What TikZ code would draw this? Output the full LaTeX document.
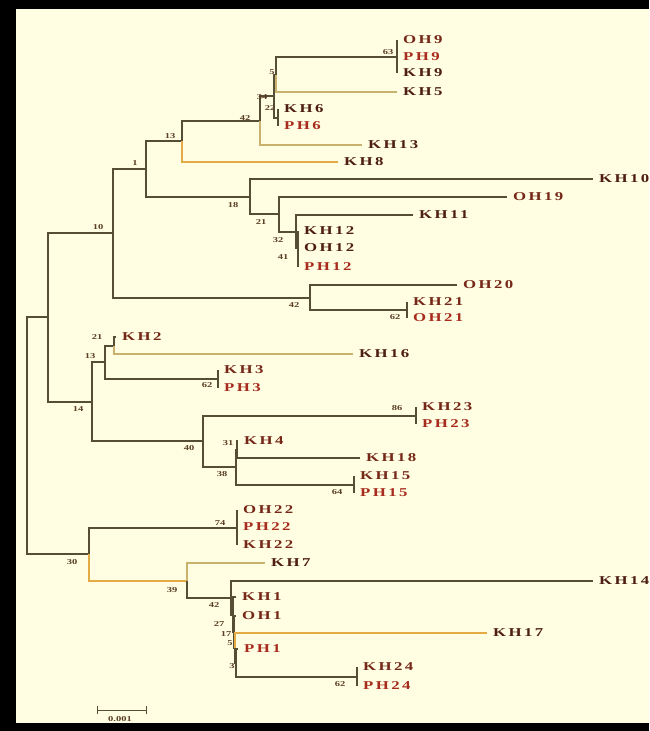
\documentclass[tikz,border=0pt]{standalone}
\usepackage{fontspec}
\newfontfamily\taxonfont[FakeStretch=1.4,LetterSpace=20]{Liberation Serif}
\newfontfamily\bootfont[FakeStretch=1.4]{Liberation Serif}
\definecolor{paper}{RGB}{255,253,226}
\definecolor{branchcol}{RGB}{85,78,52}
\definecolor{palecol}{RGB}{200,178,110}
\definecolor{ambercol}{RGB}{228,170,70}
\definecolor{khcol}{RGB}{78,30,20}
\definecolor{ohcol}{RGB}{118,40,24}
\definecolor{phcol}{RGB}{168,44,30}
\definecolor{bootcol}{RGB}{90,62,36}
\begin{document}
\begin{tikzpicture}[
			x = 1pt,
			y = -1pt,
			branch/.style = {
				draw = branchcol,
				line width = 1.4pt
			},
			pale/.style = {branch, draw = palecol},
			amber/.style = {branch, draw = ambercol},
			taxon/.style = {
				anchor = west,
				inner xsep = 6pt,
				inner ysep = 0pt,
				font = \fontsize{12}{12}\taxonfont\bfseries
			},
			kh/.style = {taxon, text = khcol},
			oh/.style = {taxon, text = ohcol},
			ph/.style = {taxon, text = phcol},
			boot/.style = {
				inner sep = 0pt,
				text = bootcol,
				font = \fontsize{7.5}{7.5}\bootfont\bfseries
			}
		]
		\useasboundingbox (0,0) rectangle (649,731);
		\fill[paper] (0,0) rectangle (649,731);
		\fill[black] (0,0) rectangle (649,9);
		\fill[black] (0,0) rectangle (16,731);
		\fill[black] (0,723) rectangle (649,731);

		\coordinate (root) at (27,436);
		\coordinate (U)    at (48,317);
		\coordinate (n10)  at (113,233);
		\coordinate (n1)   at (146,169);
		\coordinate (n13)  at (182,141);
		\coordinate (n42a) at (260,121);
		\coordinate (n34)  at (274,96);
		\coordinate (n5)   at (276,75);
		\coordinate (n63)  at (397,57);
		\coordinate (n22)  at (278,118);
		\coordinate (n18)  at (250,197);
		\coordinate (n21)  at (279,214);
		\coordinate (n32)  at (296,232);
		\coordinate (n41)  at (298,248);
		\coordinate (n42b) at (310,298);
		\coordinate (n62a) at (407,310);
		\coordinate (n14)  at (92,402);
		\coordinate (n13b) at (105,362);
		\coordinate (n21b) at (114,346);
		\coordinate (n62b) at (218,379);
		\coordinate (n40)  at (203,441);
		\coordinate (n86)  at (416,416);
		\coordinate (n38)  at (236,467);
		\coordinate (n31)  at (237,450);
		\coordinate (n64)  at (354,485);
		\coordinate (n30)  at (89,554);
		\coordinate (n74)  at (237,528);
		\coordinate (n39)  at (187,581);
		\coordinate (n42c) at (231,598);
		\coordinate (n27)  at (233,615);
		\coordinate (n17)  at (234,632);
		\coordinate (n5b)  at (235,648);
		\coordinate (n3)   at (236,663);
		\coordinate (n62c) at (357,677);

		\node[oh] (OH9)  at (397,40)  {OH9};
		\node[ph] (PH9)  at (397,57)  {PH9};
		\node[kh] (KH9)  at (397,73)  {KH9};
		\node[kh] (KH5)  at (397,92)  {KH5};
		\node[kh] (KH6)  at (278,109) {KH6};
		\node[ph] (PH6)  at (278,126) {PH6};
		\node[kh] (KH13) at (362,145) {KH13};
		\node[kh] (KH8)  at (338,162) {KH8};
		\node[kh] (KH10) at (593,179) {KH10};
		\node[oh] (OH19) at (507,197) {OH19};
		\node[kh] (KH11) at (413,215) {KH11};
		\node[kh] (KH12) at (298,231) {KH12};
		\node[kh] (OH12) at (298,248) {OH12};
		\node[ph] (PH12) at (298,267) {PH12};
		\node[oh] (OH20) at (457,285) {OH20};
		\node[oh] (KH21) at (407,302) {KH21};
		\node[ph] (OH21) at (407,318) {OH21};
		\node[oh] (KH2)  at (116,337) {KH2};
		\node[kh] (KH16) at (353,354) {KH16};
		\node[oh] (KH3)  at (218,370) {KH3};
		\node[ph] (PH3)  at (218,388) {PH3};
		\node[oh] (KH23) at (416,407) {KH23};
		\node[ph] (PH23) at (416,424) {PH23};
		\node[oh] (KH4)  at (238,441) {KH4};
		\node[oh] (KH18) at (360,458) {KH18};
		\node[oh] (KH15) at (354,476) {KH15};
		\node[ph] (PH15) at (354,493) {PH15};
		\node[oh] (OH22) at (237,510) {OH22};
		\node[ph] (PH22) at (237,527) {PH22};
		\node[oh] (KH22) at (237,545) {KH22};
		\node[kh] (KH7)  at (265,563) {KH7};
		\node[kh] (KH14) at (593,581) {KH14};
		\node[oh] (KH1)  at (236,597) {KH1};
		\node[oh] (OH1)  at (236,616) {OH1};
		\node[kh] (KH17) at (487,633) {KH17};
		\node[ph] (PH1)  at (238,649) {PH1};
		\node[oh] (KH24) at (357,667) {KH24};
		\node[ph] (PH24) at (357,686) {PH24};

		\draw[branch] (root) |- (U);
		\draw[branch] (root) |- (n30);
		\draw[branch] (U) |- (n10);
		\draw[branch] (U) |- (n14);
		\draw[branch] (n10) |- (n1);
		\draw[branch] (n10) |- (n42b);
		\draw[branch] (n1) |- (n13);
		\draw[branch] (n1) |- (n18);
		\draw[branch] (n13) |- (n42a);
		\draw[amber] (n13) |- (KH8.west);
		\draw[branch] (n42a) |- (n34);
		\draw[pale] (n42a) |- (KH13.west);
		\draw[branch] (n34) |- (n5);
		\draw[branch] (n34) |- (n22);
		\draw[branch] (n5) |- (n63);
		\draw[pale] (n5) |- (KH5.west);
		\draw[branch] (n63) |- (OH9.west);
		\draw[branch] (n63) |- (PH9.west);
		\draw[branch] (n63) |- (KH9.west);
		\draw[branch] (n22) |- (KH6.west);
		\draw[branch] (n22) |- (PH6.west);
		\draw[branch] (n18) |- (KH10.west);
		\draw[branch] (n18) |- (n21);
		\draw[branch] (n21) |- (OH19.west);
		\draw[branch] (n21) |- (n32);
		\draw[branch] (n32) |- (KH11.west);
		\draw[branch] (n32) |- (n41);
		\draw[branch] (n41) |- (KH12.west);
		\draw[branch] (n41) |- (OH12.west);
		\draw[branch] (n41) |- (PH12.west);
		\draw[branch] (n42b) |- (OH20.west);
		\draw[branch] (n42b) |- (n62a);
		\draw[branch] (n62a) |- (KH21.west);
		\draw[branch] (n62a) |- (OH21.west);
		\draw[branch] (n14) |- (n13b);
		\draw[branch] (n14) |- (n40);
		\draw[branch] (n13b) |- (n21b);
		\draw[branch] (n13b) |- (n62b);
		\draw[branch] (n21b) |- (KH2.west);
		\draw[pale] (n21b) |- (KH16.west);
		\draw[branch] (n62b) |- (KH3.west);
		\draw[branch] (n62b) |- (PH3.west);
		\draw[branch] (n40) |- (n86);
		\draw[branch] (n40) |- (n38);
		\draw[branch] (n86) |- (KH23.west);
		\draw[branch] (n86) |- (PH23.west);
		\draw[branch] (n38) |- (n31);
		\draw[branch] (n38) |- (n64);
		\draw[branch] (n31) |- (KH4.west);
		\draw[branch] (n31) |- (KH18.west);
		\draw[branch] (n64) |- (KH15.west);
		\draw[branch] (n64) |- (PH15.west);
		\draw[branch] (n30) |- (n74);
		\draw[amber] (n30) |- (n39);
		\draw[branch] (n74) |- (OH22.west);
		\draw[branch] (n74) |- (PH22.west);
		\draw[branch] (n74) |- (KH22.west);
		\draw[pale] (n39) |- (KH7.west);
		\draw[branch] (n39) |- (n42c);
		\draw[branch] (n42c) |- (KH14.west);
		\draw[branch] (n42c) |- (n27);
		\draw[branch] (n27) |- (KH1.west);
		\draw[branch] (n27) |- (n17);
		\draw[branch] (n17) |- (OH1.west);
		\draw[branch] (n17) |- (n5b);
		\draw[amber] (n5b) |- (KH17.west);
		\draw[branch] (n5b) |- (n3);
		\draw[branch] (n3) |- (PH1.west);
		\draw[branch] (n3) |- (n62c);
		\draw[branch] (n62c) |- (KH24.west);
		\draw[branch] (n62c) |- (PH24.west);

		\node[boot] (b63)  at (388,52)  {63};
		\node[boot] (b5)   at (272,72)  {5};
		\node[boot] (b34)  at (262,97)  {34};
		\node[boot] (b22)  at (270,108) {22};
		\node[boot] (b42a) at (245,118) {42};
		\node[boot] (b13)  at (170,136) {13};
		\node[boot] (b1)   at (135,163) {1};
		\node[boot] (b10)  at (98,227)  {10};
		\node[boot] (b18)  at (233,205) {18};
		\node[boot] (b21)  at (261,222) {21};
		\node[boot] (b32)  at (278,240) {32};
		\node[boot] (b41)  at (283,257) {41};
		\node[boot] (b42b) at (294,305) {42};
		\node[boot] (b62a) at (395,317) {62};
		\node[boot] (b21b) at (97,337)  {21};
		\node[boot] (b13b) at (90,356)  {13};
		\node[boot] (b14)  at (78,409)  {14};
		\node[boot] (b62b) at (207,385) {62};
		\node[boot] (b86)  at (397,408) {86};
		\node[boot] (b40)  at (189,448) {40};
		\node[boot] (b31)  at (228,443) {31};
		\node[boot] (b38)  at (222,474) {38};
		\node[boot] (b64)  at (337,492) {64};
		\node[boot] (b74)  at (220,523) {74};
		\node[boot] (b30)  at (72,562)  {30};
		\node[boot] (b39)  at (172,590) {39};
		\node[boot] (b42c) at (214,605) {42};
		\node[boot] (b27)  at (219,624) {27};
		\node[boot] (b17)  at (226,634) {17};
		\node[boot] (b5b)  at (230,643) {5};
		\node[boot] (b3)   at (232,666) {3};
		\node[boot] (b62c) at (340,684) {62};

		\coordinate (sbl) at (97,710);
		\coordinate (sbr) at (147,710);
		\draw[branch, line width = 0.8pt, |-|] (sbl) -- (sbr);
		\node[boot] (sbt) at (120,719) {0.001};
	\end{tikzpicture}
\end{document}
